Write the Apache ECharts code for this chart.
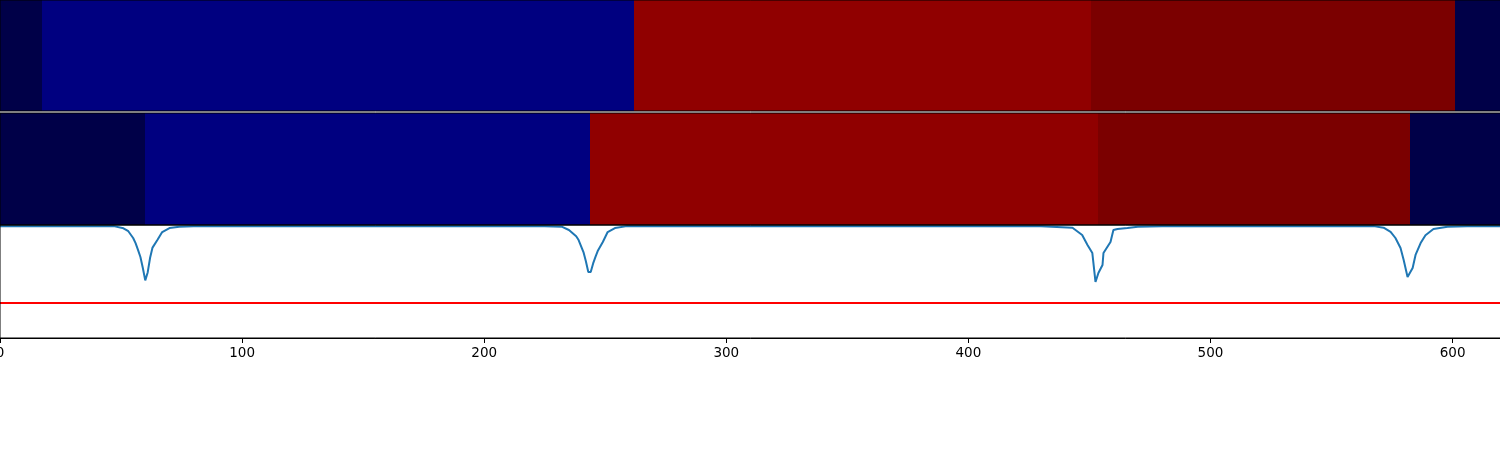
<!DOCTYPE html>
<html>
<head>
<meta charset="utf-8">
<script src="https://cdn.jsdelivr.net/npm/echarts@6/dist/echarts.min.js"></script>
<style>
  html, body { margin: 0; padding: 0; background: #fff; }
  #chart { width: 1500px; height: 450px; }
</style>
</head>
<body>
<div id="chart"></div>
<script>
// ---------------- data ----------------
const xTicks = [0, 100, 200, 300, 400, 500, 600];
const xMin = 0;
const xMax = 620;

// segment boundaries and state levels of the two coloured rows
const row1Edges = [0, 17.4, 262.0, 450.8, 600.8, 620];
const row1Levels = [0, 1, 2, 3, 0];
const row2Edges = [0, 59.9, 243.8, 453.7, 582.6, 620];
const row2Levels = [0, 1, 2, 3, 0];

// blue trace in bottom panel
const traceX = [0, 20, 40, 47, 51, 53, 55, 56, 57, 58, 59, 60, 61, 62, 63, 65, 67, 70, 74, 80,
  120, 160, 200, 225, 232, 235, 238, 239, 241, 242, 243, 244, 245, 246, 247, 249, 251, 254, 259,
  300, 350, 400, 430, 443, 447, 449.2, 451.2, 452.5, 453.7, 455.4, 455.8, 457.9, 458.7, 459.9, 461.6, 465.7, 470, 480,
  520, 560, 567.4, 571.5, 574.4, 576.4, 578.5, 579.8, 581.4, 582.2, 583.5, 584.7, 586.8, 588.8, 592.1, 597.9, 606, 620];
const traceY = [0.99, 0.99, 0.99, 0.99, 0.971, 0.945, 0.885, 0.84, 0.78, 0.717, 0.62, 0.51, 0.58, 0.71, 0.80, 0.867, 0.938, 0.973, 0.985, 0.99,
  0.99, 0.99, 0.99, 0.99, 0.985, 0.956, 0.90, 0.867, 0.761, 0.68, 0.584, 0.584, 0.66, 0.72, 0.775, 0.85, 0.938, 0.973, 0.99,
  0.99, 0.99, 0.99, 0.99, 0.976, 0.912, 0.823, 0.752, 0.496, 0.575, 0.646, 0.752, 0.823, 0.85, 0.955, 0.965, 0.973, 0.985, 0.99,
  0.99, 0.99, 0.99, 0.976, 0.94, 0.885, 0.796, 0.69, 0.54, 0.54, 0.62, 0.735, 0.84, 0.91, 0.965, 0.985, 0.99, 0.99];

const thresholdY = 0.31;

// ---------------- style ----------------
const palette = ['#000048', '#000080', '#900000', '#7b0000'];
const fontFamily = 'DejaVu Sans';

function segments(edges, levels) {
  const out = [];
  for (let i = 0; i < levels.length; i++) out.push([edges[i], edges[i + 1], levels[i]]);
  return out;
}

function renderSeg(params, api) {
  const p0 = api.coord([api.value(0), 0]);
  const p1 = api.coord([api.value(1), 1]);
  const x0 = Math.round(p0[0]);
  const x1 = Math.round(p1[0]);
  return {
    type: 'rect',
    shape: { x: x0, y: p1[1], width: x1 - x0, height: p0[1] - p1[1] },
    style: { fill: palette[api.value(2)] }
  };
}

const gridBase = {
  left: 0, width: 1501, show: true, borderColor: '#000', borderWidth: 1,
  backgroundColor: 'transparent', z: 10, outerBoundsMode: 'none', containLabel: false
};

const hiddenX = (gi) => ({
  type: 'value', gridIndex: gi, min: xMin, max: xMax, show: false
});
const hiddenY = (gi) => ({
  type: 'value', gridIndex: gi, min: 0, max: 1, show: false
});

const chart = echarts.init(document.getElementById('chart'), null, { renderer: 'canvas' });
chart.setOption({
  animation: false,
  backgroundColor: '#fff',
  grid: [
    Object.assign({}, gridBase, { top: 0, height: 111 }),
    Object.assign({}, gridBase, { top: 113, height: 112 }),
    Object.assign({}, gridBase, { top: 225, height: 113 })
  ],
  xAxis: [
    hiddenX(0),
    hiddenX(1),
    {
      type: 'value', gridIndex: 2, min: xMin, max: xMax, interval: 100,
      splitLine: { show: false },
      axisLine: { show: true, lineStyle: { color: '#000', width: 1 } },
      axisTick: { show: true, length: 5, inside: false, customValues: xTicks, lineStyle: { color: '#000', width: 1 } },
      axisLabel: { customValues: xTicks, margin: 8, color: '#000', fontSize: 13.5, fontFamily: fontFamily },
      z: 10
    }
  ],
  yAxis: [hiddenY(0), hiddenY(1), hiddenY(2)],
  series: [
    {
      type: 'custom', xAxisIndex: 0, yAxisIndex: 0,
      renderItem: renderSeg, data: segments(row1Edges, row1Levels), clip: true
    },
    {
      type: 'custom', xAxisIndex: 1, yAxisIndex: 1,
      renderItem: renderSeg, data: segments(row2Edges, row2Levels), clip: true
    },
    {
      type: 'line', xAxisIndex: 2, yAxisIndex: 2,
      data: [[xMin, thresholdY], [xMax, thresholdY]],
      showSymbol: false, symbol: 'none',
      lineStyle: { color: '#ff0000', width: 2 }
    },
    {
      type: 'line', xAxisIndex: 2, yAxisIndex: 2,
      data: traceX.map((x, i) => [x, traceY[i]]),
      showSymbol: false, symbol: 'none', clip: true,
      lineStyle: { color: '#1f77b4', width: 2 }
    }
  ]
});
</script>
</body>
</html>
